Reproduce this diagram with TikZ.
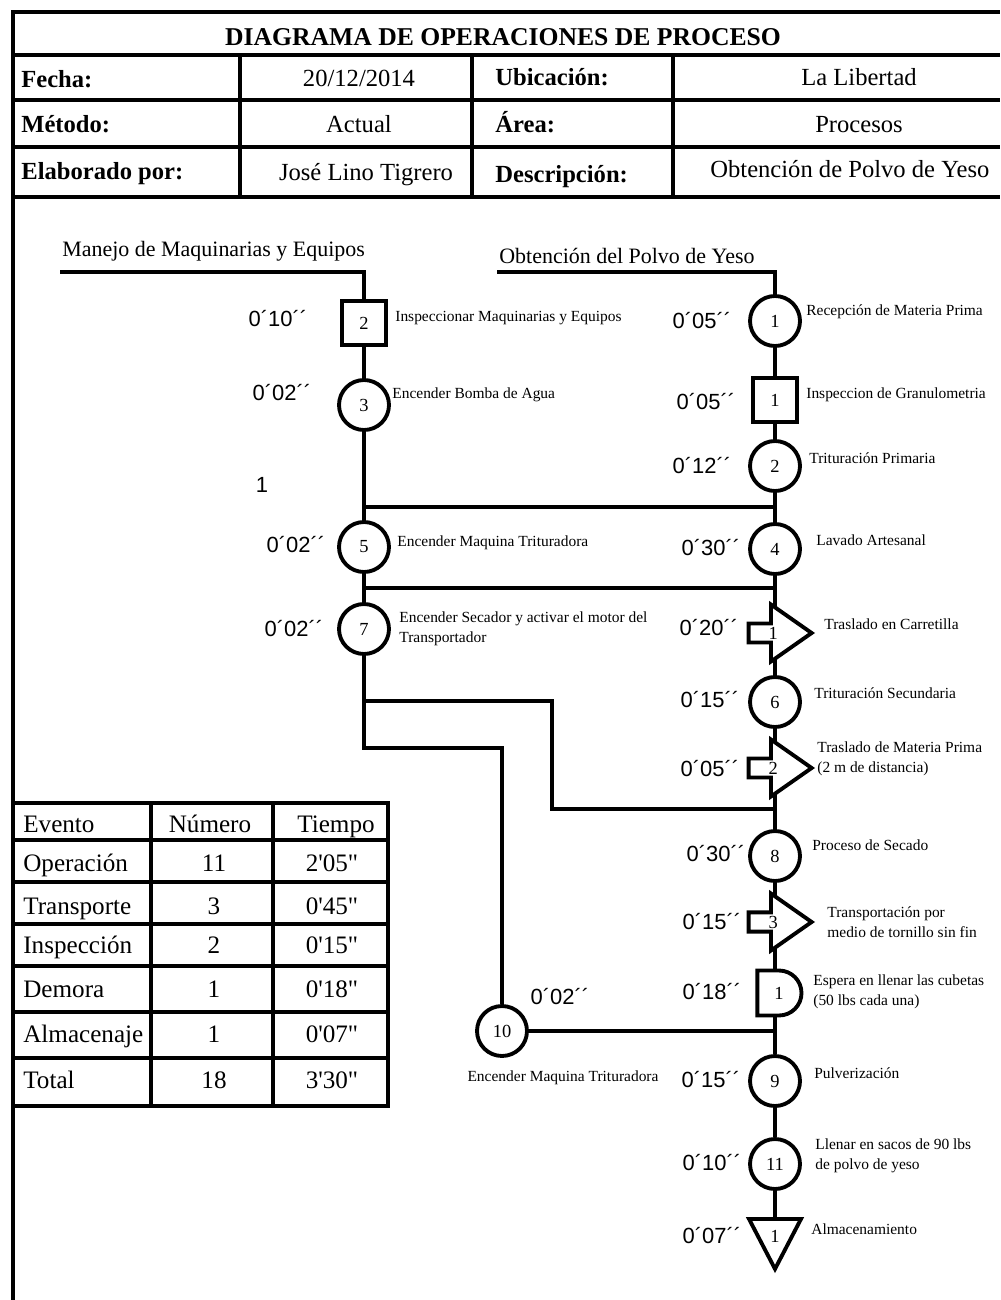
\documentclass[tikz,border=0pt]{standalone}
\usepackage{fontspec}
\setmainfont{Liberation Serif}
\newfontfamily\arialf{Liberation Sans}
\usepackage{tikz}
\usetikzlibrary{shapes.geometric,shapes.arrows,shapes.misc,backgrounds,calc}

\begin{document}
\begin{tikzpicture}[
  x=0.02cm, y=-0.02cm,
  linea/.style={line width=2.2pt},
  oper/.style={circle, draw, line width=2.2pt, fill=white, minimum size=1cm,
               inner sep=0pt, font=\fontsize{10.5}{12}\selectfont},
  insp/.style={rectangle, draw, line width=2.2pt, fill=white, minimum size=0.88cm,
               inner sep=0pt, font=\fontsize{10.5}{12}\selectfont},
  transp/.style={single arrow, draw, line width=2.2pt, fill=white, anchor=tip,
               single arrow tip angle=70, single arrow head extend=0.32cm,
               minimum width=1.14cm, minimum height=1.26cm, inner sep=0pt,
               font=\fontsize{10.5}{12}\selectfont},
  demora/.style={rounded rectangle, rounded rectangle west arc=none, draw,
               line width=2.2pt, fill=white, minimum width=0.72cm,
               minimum height=0.9cm, inner sep=0pt, font=\fontsize{10.5}{12}\selectfont},
  almac/.style={isosceles triangle, isosceles triangle stretches,
               shape border rotate=-90, draw, line width=2.2pt, fill=white,
               anchor=apex, minimum width=1.04cm, minimum height=1.0cm,
               inner sep=0pt},
  numero/.style={inner sep=0pt, font=\fontsize{10.5}{12}\selectfont},
  tiempo/.style={inner sep=0pt, font=\arialf\fontsize{12.5}{14}\selectfont},
  desc/.style={anchor=west, align=left, inner sep=0pt,
               font=\fontsize{8.8}{11.3}\selectfont},
  encab/.style={anchor=base west, inner sep=0pt,
               font=\bfseries\fontsize{14}{16}\selectfont},
  dato/.style={anchor=base, inner sep=0pt, font=\fontsize{14}{16}\selectfont},
  celda/.style={anchor=base, inner sep=0pt, font=\fontsize{14.3}{16}\selectfont},
  titulo/.style={anchor=base west, inner sep=0pt, font=\fontsize{12.5}{14}\selectfont}
]
  \useasboundingbox (0,0) rectangle (1000,1300);
  \clip (0,0) rectangle (1000,1300);

  % Encabezado
  \draw[linea] (13,1300) -- (13,12) -- (1000,12);
  \foreach \y in {55,100,147,197}
    \draw[linea] (13,\y) -- (1000,\y);
  \foreach \x in {240,472,673}
    \draw[linea] (\x,55) -- (\x,197);

  \node[anchor=base, inner sep=0pt, font=\bfseries\fontsize{14.6}{16}\selectfont]
    (tit) at (503,46) {DIAGRAMA DE OPERACIONES DE PROCESO};
  \node[encab] (fecha)  at (21,88)   {Fecha:};
  \node[dato]  (fechav) at (359,87)  {20/12/2014};
  \node[encab] (ubic)   at (495,86)  {Ubicación:};
  \node[dato]  (ubicv)  at (859,86)  {La Libertad};
  \node[encab] (met)    at (21,133)  {Método:};
  \node[dato]  (metv)   at (359,133) {Actual};
  \node[encab] (area)   at (495,133) {Área:};
  \node[dato]  (areav)  at (859,133) {Procesos};
  \node[encab] (elab)   at (21,180)  {Elaborado por:};
  \node[dato]  (elabv)  at (366,181) {José Lino Tigrero};
  \node[encab] (descr)  at (495,183) {Descripción:};
  \node[dato, anchor=base west] (descrv) at (710,178) {Obtención de Polvo de Yeso};

  % Manejo de Maquinarias y Equipos
  \node[titulo] (manejo) at (62,257) {Manejo de Maquinarias y Equipos};
  \coordinate (mh) at (60,272);
  \node[insp] (l2)  at (364,323)  {2};
  \node[oper] (l3)  at (364,405)  {3};
  \node[oper] (l5)  at (364,547)  {5};
  \node[oper] (l7)  at (364,629)  {7};
  \node[oper] (l10) at (502,1031) {10};

  \node[tiempo] (tl2)  at (278,319)  {0´10´´};
  \node[tiempo] (tl3)  at (282,393)  {0´02´´};
  \node[tiempo] (uno)  at (262,485)  {1};
  \node[tiempo] (tl5)  at (296,545)  {0´02´´};
  \node[tiempo] (tl7)  at (294,629)  {0´02´´};
  \node[tiempo] (tl10) at (560,997)  {0´02´´};

  \node[desc] (dl2) at (395,318) {Inspeccionar Maquinarias y Equipos};
  \node[desc] (dl3) at (392,395) {Encender Bomba de Agua};
  \node[desc] (dl5) at (397,543) {Encender Maquina Trituradora};
  \node[desc] (dl7) at (399,629) {Encender Secador y activar el motor del\\Transportador};
  \node[desc, anchor=center] (dl10) at (563,1078) {Encender Maquina Trituradora};

  % Obtencion del Polvo de Yeso
  \node[titulo] (obten) at (499,264) {Obtención del Polvo de Yeso};
  \coordinate (oh) at (497,272);
  \node[oper]   (r1)  at (775,321)  {1};
  \node[insp]   (ri1) at (775,400)  {1};
  \node[oper]   (r2)  at (775,466)  {2};
  \node[oper]   (r4)  at (775,549)  {4};
  \node[transp] (t1)  at (815,633)  {1};
  \node[oper]   (r6)  at (775,702)  {6};
  \node[transp] (t2)  at (815,768)  {2};
  \node[oper]   (r8)  at (775,856)  {8};
  \node[transp] (t3)  at (815,922)  {3};
  \node[demora] (d1)  at (779,993)  {1};
  \node[oper]   (r9)  at (775,1081) {9};
  \node[oper]   (r11) at (775,1164) {11};
  \node[almac]  (a1)  at (775,1274) {};
  \node[numero] (a1n) at ($(a1.left corner)!0.5!(a1.right corner)!0.34!(a1.apex)$) {1};

  \node[tiempo] (tr1)  at (702,321)  {0´05´´};
  \node[tiempo] (tri1) at (706,402)  {0´05´´};
  \node[tiempo] (tr2)  at (702,466)  {0´12´´};
  \node[tiempo] (tr4)  at (711,548)  {0´30´´};
  \node[tiempo] (tt1)  at (709,628)  {0´20´´};
  \node[tiempo] (tr6)  at (710,700)  {0´15´´};
  \node[tiempo] (tt2)  at (710,769)  {0´05´´};
  \node[tiempo] (tr8)  at (716,854)  {0´30´´};
  \node[tiempo] (tt3)  at (712,922)  {0´15´´};
  \node[tiempo] (td1)  at (712,992)  {0´18´´};
  \node[tiempo] (tr9)  at (711,1080) {0´15´´};
  \node[tiempo] (tr11) at (712,1163) {0´10´´};
  \node[tiempo] (ta1)  at (712,1236) {0´07´´};

  \node[desc] (dr1)  at (806,312)  {Recepción de Materia Prima};
  \node[desc] (dri1) at (806,395)  {Inspeccion de Granulometria};
  \node[desc] (dr2)  at (809,458)  {Trituración Primaria};
  \node[desc] (dr4)  at (816,540)  {Lavado Artesanal};
  \node[desc] (dt1)  at (824,624)  {Traslado en Carretilla};
  \node[desc] (dr6)  at (814,693)  {Trituración Secundaria};
  \node[desc] (dt2)  at (817,759)  {Traslado de Materia Prima\\(2 m de distancia)};
  \node[desc] (dr8)  at (812,845)  {Proceso de Secado};
  \node[desc] (dt3)  at (827,922)  {Transportación por\\medio de tornillo sin fin};
  \node[desc] (dd1)  at (813,992)  {Espera en llenar las cubetas\\(50 lbs cada una)};
  \node[desc] (dr9)  at (814,1073) {Pulverización};
  \node[desc] (dr11) at (815,1156) {Llenar en sacos de 90 lbs\\de polvo de yeso};
  \node[desc] (da1)  at (811,1229) {Almacenamiento};

  % Resumen
  \draw[linea] (13,803) rectangle (388,1106);
  \foreach \y in {840,882,924,966,1012,1058}
    \draw[linea] (13,\y) -- (388,\y);
  \foreach \x in {151,273}
    \draw[linea] (\x,803) -- (\x,1106);
  \node[celda, anchor=base west] (evento) at (23,832)  {Evento};
  \node[celda] (numero) at (210,832) {Número};
  \node[celda] (tiempo) at (336,832) {Tiempo};
  \foreach \ev/\nm/\tm/\yb [count=\i] in {
      Operación/11/2\textquotesingle05\textquotedbl/871,
      Transporte/3/0\textquotesingle45\textquotedbl/914,
      Inspección/2/0\textquotesingle15\textquotedbl/953,
      Demora/1/0\textquotesingle18\textquotedbl/997,
      Almacenaje/1/0\textquotesingle07\textquotedbl/1042,
      Total/18/3\textquotesingle30\textquotedbl/1088} {
    \node[celda, anchor=base west] (ev\i) at (23,\yb) {\ev};
    \node[celda] (nm\i) at (214,\yb) {\nm};
    \node[celda] (tm\i) at (332,\yb) {\tm};
  }

  % Conectores
  \coordinate (ja) at (0,507);
  \coordinate (jb) at (0,588);
  \coordinate (ba) at (552,701);
  \coordinate (bb) at (502,748);
  \coordinate (jc) at (775,809);
  \begin{scope}[on background layer]
    \draw[linea] (mh) -| (l2);
    \draw[linea] (l2) -- (l3) -- (l5) -- (l7) |- (bb) -- (l10);
    \draw[linea] (l7 |- ba) -- (ba) |- (jc);
    \draw[linea] (oh) -| (r1);
    \draw[linea] (r1) -- (ri1) -- (r2) -- (r4) -- (r6) -- (r8) -- (r9) -- (r11)
                 -- (r11 |- a1.left corner);
    \draw[linea] (l3 |- ja) -- (r2 |- ja);
    \draw[linea] (l5 |- jb) -- (r4 |- jb);
    \draw[linea] (l10) -- (l10 -| r9);
  \end{scope}
\end{tikzpicture}
\end{document}
